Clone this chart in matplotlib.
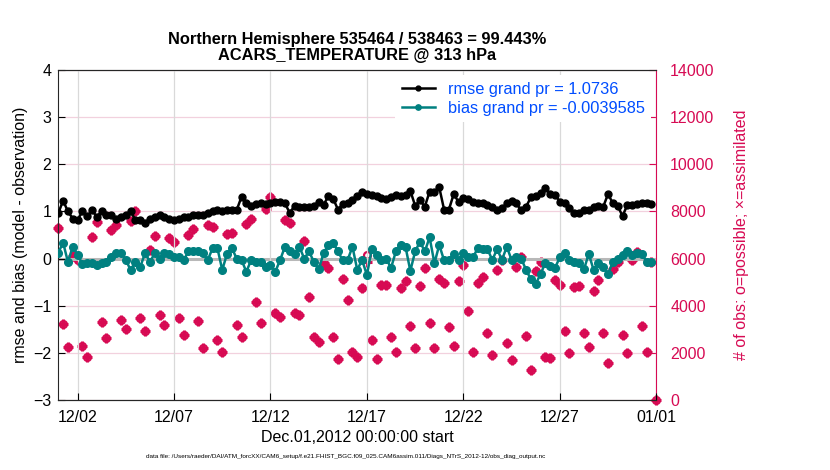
import numpy as np
import pandas as pd
import matplotlib
matplotlib.use("Agg")
import matplotlib.pyplot as plt
import matplotlib.dates as mdates

plt.rcParams['font.family'] = ['Liberation Sans', 'DejaVu Sans']

# 6-hourly bins, Dec 1 2012 00Z .. Jan 1 2013 00Z
times = pd.date_range('2012-12-01 00:00', periods=125, freq='6h')

rmse = [0.96, 1.23, 1.00, 0.85, 0.82, 1.00, 0.90, 1.02, 0.89, 1.00,
        0.92, 0.92, 0.85, 0.89, 0.92, 1.00, 0.82, 0.82, 0.75, 0.85,
        0.89, 0.92, 0.89, 0.83, 0.82, 0.85, 0.89, 0.89, 0.92, 0.92,
        0.92, 0.96, 1.00, 1.02, 1.00, 1.02, 1.02, 1.03, 1.31, 1.17,
        1.12, 1.15, 1.18, 1.16, 1.18, 1.20, 1.20, 1.17, 0.97, 1.12,
        1.09, 1.10, 1.10, 1.12, 1.20, 1.14, 1.32, 1.27, 1.04, 1.16,
        1.18, 1.25, 1.33, 1.42, 1.37, 1.35, 1.32, 1.28, 1.26, 1.30,
        1.35, 1.33, 1.35, 1.44, 1.12, 1.24, 1.10, 1.42, 1.42, 1.51,
        1.04, 1.04, 1.37, 1.20, 1.28, 1.26, 1.21, 1.17, 1.18, 1.14,
        1.10, 1.03, 1.07, 1.17, 1.23, 1.17, 1.02, 1.10, 1.30, 1.33,
        1.40, 1.49, 1.38, 1.35, 1.21, 1.17, 1.07, 0.97, 0.97, 1.02,
        1.04, 1.09, 1.12, 1.10, 1.37, 1.17, 1.12, 0.90, 1.14, 1.14,
        1.16, 1.17, 1.17, 1.16, np.nan]

bias = [0.12, 0.34, -0.07, 0.25, 0.08, -0.11, -0.10, -0.10, -0.14, -0.09,
        -0.07, 0.03, 0.11, 0.12, -0.03, -0.24, -0.07, -0.18, 0.12, -0.07,
        0.11, 0.00, 0.12, 0.10, 0.03, 0.04, -0.03, 0.15, 0.15, 0.15,
        0.11, -0.03, 0.22, 0.22, -0.24, 0.10, 0.22, 0.00, -0.03, -0.28,
        -0.03, -0.07, -0.07, -0.18, -0.14, -0.28, -0.03, 0.25, 0.15, 0.10,
        0.25, 0.00, 0.15, -0.07, -0.23, 0.11, 0.29, 0.34, 0.15, -0.04,
        -0.03, 0.25, -0.24, -0.03, -0.35, 0.20, 0.08, -0.03, 0.00, -0.20,
        0.15, 0.29, 0.25, -0.26, 0.15, 0.36, 0.15, 0.45, -0.10, 0.29,
        -0.04, -0.04, 0.10, -0.03, 0.12, 0.03, 0.03, 0.22, 0.20, 0.20,
        -0.03, 0.20, -0.03, 0.25, -0.03, 0.03, 0.00, -0.24, -0.44, -0.54,
        -0.33, -0.09, -0.16, -0.20, 0.03, 0.12, -0.04, -0.07, -0.10, -0.23,
        0.10, -0.24, -0.09, -0.18, -0.33, -0.07, 0.00, 0.08, 0.15, 0.08,
        0.11, 0.10, -0.07, -0.07, np.nan]

nused = [7280, 3220, 2260, 6100, 5940, 2300, 1840, 6900, 7540, 3300,
         2630, 7200, 7420, 3390, 3010, 7600, 8000, 3490, 2930, 6360,
         6960, 3600, 3180, 6860, 6720, 3460, 2760, 7000, 7240, 3350,
         2190, 7420, 7350, 2545, 2050, 7030, 7070, 3180, 2690, 7470,
         7670, 4140, 3250, 8090, 8600, 3680, 3510, 7640, 7500, 3700,
         3600, 6740, 4350, 2690, 2480, 5800, 5590, 2690, 1730, 5120,
         4240, 2050, 1840, 4740, 5870, 2545, 1730, 4880, 4880, 2660,
         2050, 4740, 5060, 3150, 2190, 4840, 5610, 3280, 2190, 5120,
         4980, 3110, 2290, 5060, 5730, 3790, 2050, 4980, 5200, 2860,
         1910, 5510, 5940, 2430, 1700, 5630, 6050, 2710, 1270, 5490,
         5870, 1810, 1770, 5090, 4880, 2940, 2010, 4810, 4840, 2830,
         2260, 4640, 5090, 2860, 1580, 5540, 5870, 2760, 2010, 5940,
         6290, 3150, 2050, 5870, 0]
nposs = list(nused)
nposs[64] = 6150

crimson = (215/255, 10/255, 83/255)
teal = (0, 128/255, 128/255)

fig = plt.figure(figsize=(8.3, 4.7), dpi=100)
ax = fig.add_axes([0.0702, 0.149, 0.7205, 0.702])
ax2 = ax.twinx()

# obs counts behind the error lines
ax.set_zorder(2)
ax.patch.set_visible(False)
ax2.plot(times, nposs, 'o', color=crimson, mfc='none', mew=1.6, ms=5, clip_on=False)
ax2.plot(times, nused, '+', color=crimson, mew=2.2, ms=7, clip_on=False)
ax2.set_ylim(0, 14000)
ax2.set_yticks(np.arange(0, 14001, 2000))
ax2.yaxis.grid(True, color=(0.95, 0.82, 0.87), lw=0.9)
ax2.tick_params(axis='y', colors=crimson, direction='in', labelsize=11.5,
                length=5, pad=10)
ax2.spines['right'].set_color(crimson)
ax2.spines['left'].set_visible(False)
ax2.set_ylabel('# of obs: o=possible; \u00d7=assimilated', color=crimson,
               fontsize=11.5, labelpad=14)

ax.axhline(0, color='0.72', lw=2.2, zorder=1)
ax.plot(times, rmse, '-o', color='black', lw=1.8, ms=5,
        label='rmse grand pr = 1.0736', zorder=3)
ax.plot(times, bias, '-o', color=teal, lw=1.8, ms=5.5,
        label='bias grand pr = -0.0039585', zorder=3)

ax.set_ylim(-3, 4)
ax.set_yticks(np.arange(-3, 5, 1))
ax.set_xlim(pd.Timestamp('2012-12-01'), pd.Timestamp('2013-01-01'))
ax.set_xticks(pd.to_datetime(['2012-12-02', '2012-12-07', '2012-12-12',
                              '2012-12-17', '2012-12-22', '2012-12-27',
                              '2013-01-01']))
ax.xaxis.set_major_formatter(mdates.DateFormatter('%m/%d'))
ax.xaxis.grid(True, color='0.85', lw=0.9)
ax.tick_params(direction='in', labelsize=11.5, length=5, pad=5)
ax.tick_params(axis='x', pad=7)
ax.spines['right'].set_visible(False)
for s in ['left', 'bottom', 'top']:
    ax.spines[s].set_color('0.15')
ax2.spines['top'].set_color('0.15')
ax2.spines['bottom'].set_color('0.15')

ax.set_xlabel('Dec.01,2012 00:00:00 start', fontsize=11.5, labelpad=4)
ax.set_ylabel('rmse and bias (model - observation)', fontsize=11.5)
ax.set_title('Northern Hemisphere 535464 / 538463 = 99.443%\nACARS_TEMPERATURE @ 313 hPa',
             fontsize=11.8, fontweight='bold', linespacing=1.15, pad=7)

leg = ax.legend(loc='upper right', fontsize=11.8, frameon=True, framealpha=1,
                edgecolor='none', handlelength=2.0, borderaxespad=0.3,
                labelspacing=0.25, markerscale=0.7)
for t in leg.get_texts():
    t.set_color((0.0, 0.3, 1.0))

fig.text(0.416, 0.025,
         'data file: /Users/raeder/DAI/ATM_forcXX/CAM6_setup/f.e21.FHIST_BGC.f09_025.CAM6assim.011/Diags_NTrS_2012-12/obs_diag_output.nc',
         fontsize=4.6, ha='center')

plt.savefig('out.png', dpi=100)
